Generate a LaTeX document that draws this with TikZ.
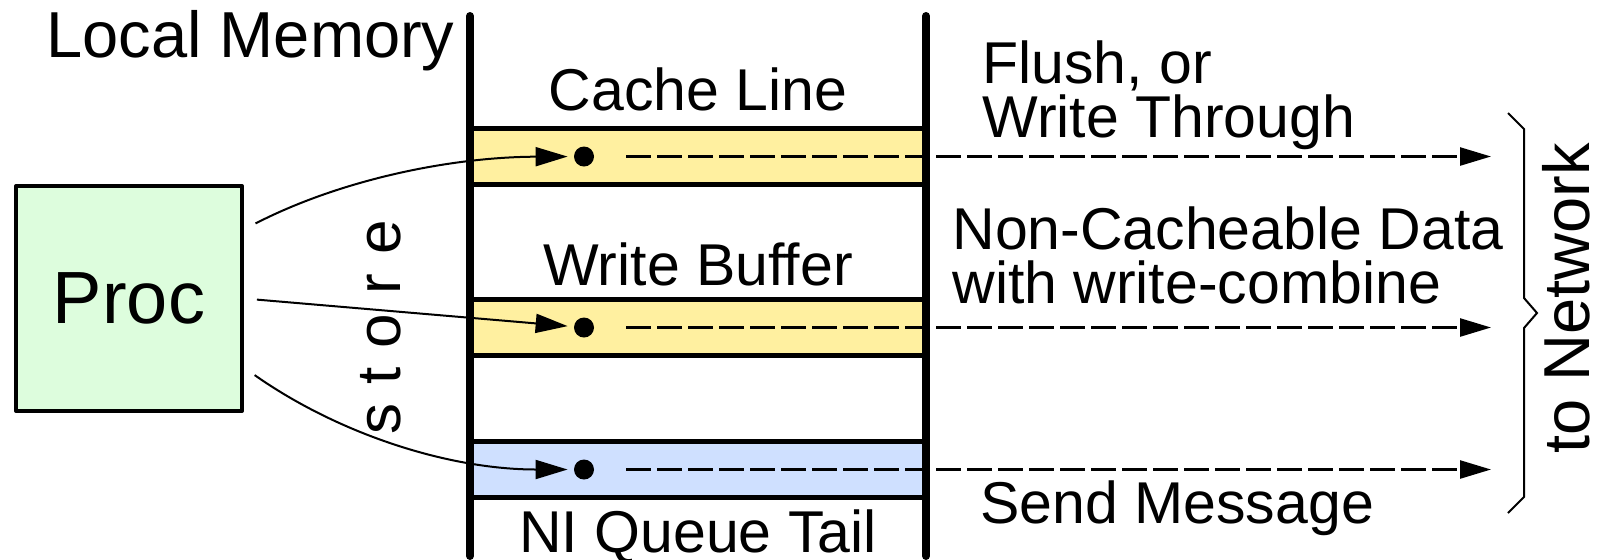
\documentclass[tikz,border=0pt]{standalone}
\usepackage{fontspec}
\setmainfont{Liberation Sans}
\usetikzlibrary{arrows.meta}

\definecolor{procgreen}{RGB}{221,253,221}
\definecolor{lineyellow}{RGB}{255,240,160}
\definecolor{queueblue}{RGB}{207,224,255}

\begin{document}
\begin{tikzpicture}[x=0.5pt,y=-0.5pt,
  lbl/.style={inner sep=0pt, font=\fontsize{29.5}{27}\selectfont},
  biglbl/.style={inner sep=0pt, font=\fontsize{31}{31}\selectfont},
  band/.style={draw=black, line width=2.5pt},
  rail/.style={line width=4pt, line cap=round},
  dotmark/.style={circle, fill=black, inner sep=0pt, minimum size=10pt},
  store/.style={line width=1pt, -{Triangle[length=16pt,width=9.5pt]},
                shorten >=3pt, shorten <=6.5pt},
  send/.style={line width=1.25pt, dash pattern=on 12.5pt off 3pt,
               -{Triangle[length=15.5pt,width=9pt]}},
  procbox/.style={draw, line width=2pt, line join=round, fill=procgreen,
                  minimum width=113pt, minimum height=112.5pt, inner sep=0pt,
                  font=\fontsize{37}{37}\selectfont},
]
\useasboundingbox (0,0) rectangle (1603,559);

% memory slots
\path[band, fill=lineyellow] (470,128.5) rectangle (926,184.5);
\path[band, fill=lineyellow] (470,299.5) rectangle (926,355.5);
\path[band, fill=queueblue]  (470,441.5) rectangle (926,497.5);

% side rails of the local memory
\draw[rail] (470,16) -- (470,556);
\draw[rail] (926,16) -- (926,556);

% processor
\node[procbox] (proc) at (129,298.5) {Proc};

% store targets
\node[dotmark] (d1) at (584,156.5) {};
\node[dotmark] (d2) at (584,327.5) {};
\node[dotmark] (d3) at (584,469.5) {};

% network ends
\coordinate (n1) at (1491,156.5);
\coordinate (n2) at (1491,327.5);
\coordinate (n3) at (1491,469.5);

% stores from the processor
\draw[store] (proc.31.5) .. controls (340,180) and (450,157) .. (d1);
\draw[store] (proc.east) -- (d2);
\draw[store] (proc.-31.9) .. controls (340,435) and (450,469.5) .. (d3);

% traffic towards the network
\draw[send] ([xshift=16pt]d1.east) -- (n1);
\draw[send] ([xshift=16pt]d2.east) -- (n2);
\draw[send] ([xshift=16pt]d3.east) -- (n3);

% brace
\draw[line width=1pt, line join=miter]
  (1508,113) -- (1524,129) -- (1524,298) -- (1537,313)
  -- (1524,328) -- (1524,497) -- (1508,513);

% labels (multi-line nodes are placed by the baseline of their last line)
\node[inner sep=0pt, font=\fontsize{32.5}{32.5}\selectfont, anchor=base west]
  (lm) at (46,57) {Local Memory};
\node[lbl, anchor=base] (cl) at (698,110) {Cache Line};
\node[lbl, anchor=base] (wb) at (698,285) {Write Buffer};
\node[lbl, anchor=base] (nq) at (698,552) {NI Queue Tail};
\node[lbl, anchor=base west, align=left] (ft) at (982,137) {Flush, or\\Write Through};
\node[lbl, anchor=base west, align=left] (nc) at (952,303) {Non-Cacheable Data\\with write-combine};
\node[lbl, anchor=base west] (sm) at (980,523) {Send Message};
\node[inner sep=0pt, font=\fontsize{32.5}{32.5}\selectfont, rotate=90, anchor=base]
  (tn) at (1589,298.5) {to Network};
\node[biglbl, rotate=90, anchor=base] (st) at (400,327.5) {\spaceskip=0.31em s t o r e};
\end{tikzpicture}
\end{document}
